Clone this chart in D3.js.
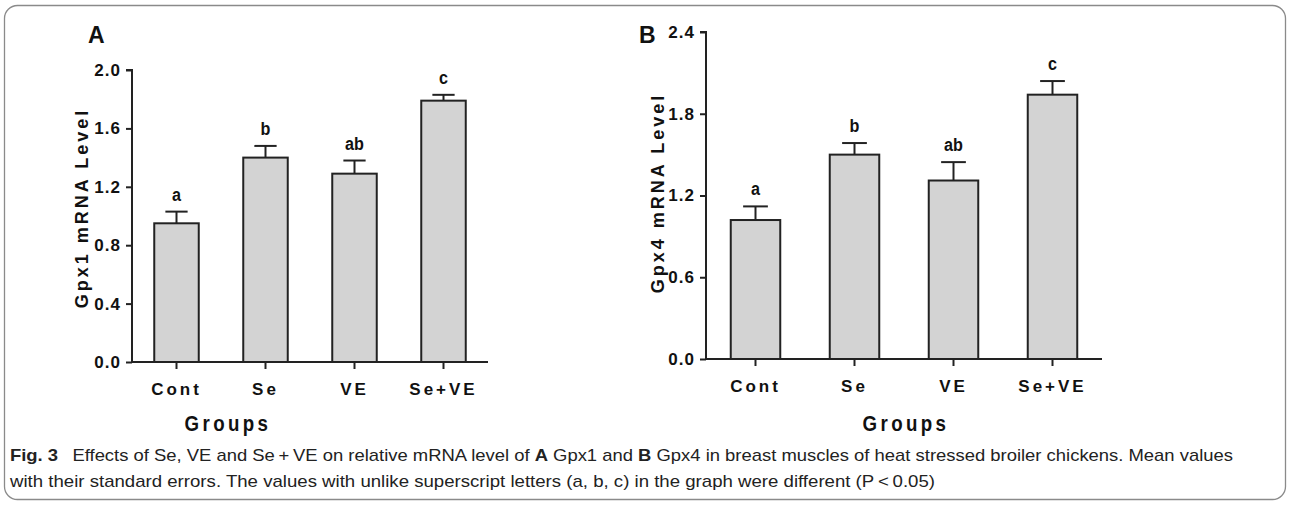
<!DOCTYPE html>
<html><head><meta charset="utf-8">
<script src="https://cdn.jsdelivr.net/npm/d3@7"></script>
<style>
body{margin:0;background:#fff;}
svg{display:block;}
.ax{font-family:"Liberation Sans",Arial,sans-serif;font-weight:bold;}
</style></head><body>
<svg id="c" width="1290" height="508"></svg>
<script>
const categories = ["Cont","Se","VE","Se+VE"];
const gpx1Mean = [0.95, 1.40, 1.29, 1.79];
const gpx1Err  = [0.08, 0.08, 0.09, 0.04];
const gpx1Letters = ["a","b","ab","c"];
const gpx1Ticks = [0.0, 0.4, 0.8, 1.2, 1.6, 2.0];
const gpx4Mean = [1.02, 1.50, 1.31, 1.94];
const gpx4Err  = [0.10, 0.085, 0.135, 0.10];
const gpx4Letters = ["a","b","ab","c"];
const gpx4Ticks = [0.0, 0.6, 1.2, 1.8, 2.4];

const svg = d3.select("#c");
svg.append("rect").attr("x",4.5).attr("y",5.5).attr("width",1281).attr("height",494)
  .attr("rx",13).attr("fill","none").attr("stroke","#8a8a8a").attr("stroke-width",1.3);

function condensed(sel, sx){ // horizontally condense text around its anchor
  sel.each(function(){
    const t = d3.select(this);
    const x = +t.attr("x") || 0, y = +t.attr("y") || 0;
    t.attr("transform", `translate(${x*(1-sx)},0) scale(${sx},1)`);
  });
}

function panel(o){
  const g = svg.append("g");
  const x = d3.scaleBand().domain(categories).range([o.x0,o.x1]).paddingInner(0.5).paddingOuter(0.25);
  const y = d3.scaleLinear().domain([0,o.ymax]).range([o.yb,o.yt]);
  g.selectAll("rect.bar").data(categories).join("rect")
    .attr("x",d=>x(d)).attr("width",x.bandwidth())
    .attr("y",(d,i)=>y(o.mean[i])).attr("height",(d,i)=>y(0)-y(o.mean[i]))
    .attr("fill","#d3d3d3").attr("stroke","#222").attr("stroke-width",2);
  const cap = x.bandwidth()*0.25;
  categories.forEach((d,i)=>{
    const cx = x(d)+x.bandwidth()/2;
    g.append("line").attr("x1",cx).attr("x2",cx).attr("y1",y(o.mean[i])).attr("y2",y(o.mean[i]+o.err[i]))
      .attr("stroke","#222").attr("stroke-width",2);
    g.append("line").attr("x1",cx-cap).attr("x2",cx+cap).attr("y1",y(o.mean[i]+o.err[i])).attr("y2",y(o.mean[i]+o.err[i]))
      .attr("stroke","#222").attr("stroke-width",2);
    const lt = g.append("text").attr("class","ax").attr("x",cx).attr("y",y(o.mean[i]+o.err[i])-11)
      .attr("text-anchor","middle").attr("font-size",19).attr("fill","#111").text(o.letters[i]);
    condensed(lt, 0.85);
  });
  const ya = g.append("g").attr("transform",`translate(${o.x0},0)`)
    .call(d3.axisLeft(y).tickValues(o.ticks).tickFormat(d3.format(".1f")).tickSize(6).tickPadding(5));
  ya.select(".domain").attr("stroke","#222").attr("stroke-width",2).attr("d",`M-6,${y(o.ymax)}H0V${y(0)}`);
  ya.selectAll(".tick line").attr("stroke","#222").attr("stroke-width",2);
  ya.selectAll(".tick text").attr("class","ax").attr("font-size",17).attr("fill","#111").attr("letter-spacing","1px");
  const xa = g.append("g").attr("transform",`translate(0,${y(0)})`)
    .call(d3.axisBottom(x).tickSize(7).tickPadding(14));
  xa.select(".domain").attr("stroke","#222").attr("stroke-width",2).attr("d",`M${o.x0},0H${o.x1}`);
  xa.selectAll(".tick line").attr("stroke","#222").attr("stroke-width",2);
  xa.selectAll(".tick text").attr("class","ax").attr("font-size",17).attr("fill","#111").attr("letter-spacing","3px");
  const gt = g.append("text").attr("class","ax").attr("x",o.gx).attr("y",431).attr("text-anchor","middle")
    .attr("font-size",22).attr("letter-spacing","4px").attr("fill","#111").text("Groups");
  condensed(gt, 0.85);
  g.append("text").attr("transform",`translate(${o.ylx},${o.yly}) rotate(-90)`).attr("text-anchor","middle")
    .attr("font-family","Liberation Sans, Arial, sans-serif").attr("font-weight","bold")
    .attr("font-size",18).attr("letter-spacing","3px").attr("fill","#111").text(o.ylabel);
  g.append("text").attr("x",o.px).attr("y",43).attr("font-family","Liberation Sans, Arial, sans-serif")
    .attr("font-weight","bold").attr("font-size",23).attr("fill","#111").text(o.plabel);
}

panel({x0:132,x1:488,yb:362,yt:70,ymax:2.0,mean:gpx1Mean,err:gpx1Err,letters:gpx1Letters,ticks:gpx1Ticks,
  ylabel:"Gpx1 mRNA Level",ylx:88,yly:208,plabel:"A",px:88,gx:228});
panel({x0:706,x1:1102,yb:359,yt:32,ymax:2.4,mean:gpx4Mean,err:gpx4Err,letters:gpx4Letters,ticks:gpx4Ticks,
  ylabel:"Gpx4 mRNA Level",ylx:664,yly:193,plabel:"B",px:639,gx:906});

const capFont = "Liberation Sans, Arial, sans-serif";
const cap1 = svg.append("text").attr("x",10).attr("y",461).attr("textLength",1223).attr("lengthAdjust","spacingAndGlyphs")
  .attr("font-family",capFont).attr("font-size",17).attr("fill","#222");
cap1.append("tspan").attr("font-weight","bold").text("Fig. 3");
cap1.append("tspan").text("\u2002 Effects of Se, VE and Se\u2009+\u2009VE on relative mRNA level of ");
cap1.append("tspan").attr("font-weight","bold").text("A");
cap1.append("tspan").text(" Gpx1 and ");
cap1.append("tspan").attr("font-weight","bold").text("B");
cap1.append("tspan").text(" Gpx4 in breast muscles of heat stressed broiler chickens. Mean values");
svg.append("text").attr("x",10).attr("y",487).attr("textLength",925).attr("lengthAdjust","spacingAndGlyphs")
  .attr("font-family",capFont).attr("font-size",17).attr("fill","#222")
  .text("with their standard errors. The values with unlike superscript letters (a, b, c) in the graph were different (P\u2009<\u20090.05)");
</script>
</body></html>
